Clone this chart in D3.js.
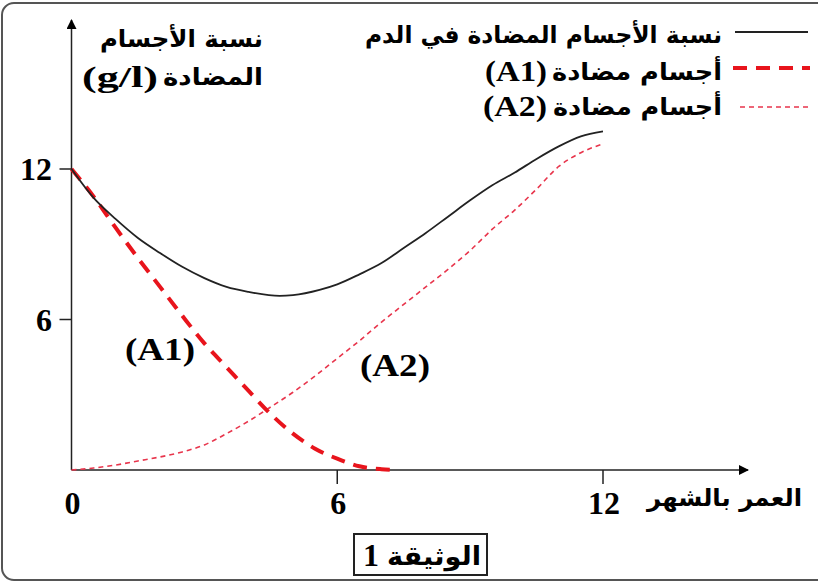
<!DOCTYPE html>
<html><head><meta charset="utf-8">
<script src="https://cdn.jsdelivr.net/npm/d3@7"></script>
<style>body{margin:0;background:#fff}svg{display:block}</style>
</head><body><svg id="c" width="818" height="582"></svg>
<script>
// Data (months, g/l)
const totalMonths = [0, 0.5, 1, 1.5, 2, 2.5, 3, 3.5, 4, 4.7, 5, 5.6, 6, 6.5, 7, 7.5, 8, 8.5, 9, 9.5, 10, 10.5, 11, 11.5, 12];
const totalValues = [12, 10.85, 10.0, 9.25, 8.65, 8.1, 7.65, 7.3, 7.1, 6.94, 6.97, 7.18, 7.4, 7.8, 8.25, 8.85, 9.45, 10.1, 10.75, 11.35, 11.85, 12.4, 12.9, 13.3, 13.5];
const a1Months = [0, 0.5, 1, 1.5, 2, 2.5, 3, 3.5, 4, 4.4, 5, 5.5, 6, 6.5, 7, 7.25];
const a1Values = [12, 10.9, 9.65, 8.45, 7.3, 6.15, 5.05, 4.1, 3.15, 2.4, 1.45, 0.85, 0.45, 0.15, 0.03, 0];
const a2Months = [0, 0.5, 1, 1.5, 2, 2.5, 3, 3.5, 4, 4.4, 5, 5.5, 6, 6.5, 7, 7.5, 8, 8.5, 9, 9.5, 10, 10.5, 11, 11.5, 12];
const a2Values = [0, 0.08, 0.2, 0.36, 0.52, 0.72, 1.0, 1.45, 1.95, 2.4, 3.1, 3.75, 4.45, 5.15, 5.9, 6.6, 7.3, 8.0, 8.75, 9.6, 10.35, 11.2, 12.1, 12.65, 13.0];
const xTicks = [0, 6, 12];
const yTicks = [6, 12];
const legendLabels = ["نسبة الأجسام المضادة في الدم", "أجسام مضادة", "أجسام مضادة"];
const legendLatin = ["", "(A1)", "(A2)"];
const yTitle1 = "نسبة الأجسام";
const yTitle2 = "المضادة";
const yUnit = "(g/l)";
const xTitle = "العمر بالشهر";
const docTitle = "الوثيقة";
const docNum = "1";

const svg = d3.select("#c");
const AR = "'DejaVu Sans', sans-serif";
const LAT = "'Liberation Serif', 'DejaVu Serif', serif";
const RED = "#e8141c", RED2 = "#e8354c";

// frame
svg.append("rect").attr("x", 2).attr("y", 3).attr("width", 840).attr("height", 577)
  .attr("rx", 12).attr("fill", "none").attr("stroke", "#555").attr("stroke-width", 2);

const x = d3.scaleLinear().domain([0, 12]).range([71.5, 603]);
const y = d3.scaleLinear().domain([0, 12]).range([470, 169]);

// axes lines with arrows
svg.append("defs").append("marker").attr("id", "arr").attr("viewBox", "0 0 10 10")
  .attr("refX", 9).attr("refY", 5).attr("markerWidth", 11).attr("markerHeight", 10)
  .attr("markerUnits", "userSpaceOnUse").attr("orient", "auto")
  .append("path").attr("d", "M0,0L10,5L0,10z").attr("fill", "#000");
svg.append("line").attr("x1", x(0)).attr("y1", y(0)).attr("x2", 748).attr("y2", y(0))
  .attr("stroke", "#222").attr("stroke-width", 1.5).attr("marker-end", "url(#arr)");
svg.append("line").attr("x1", x(0)).attr("y1", y(0)).attr("x2", x(0)).attr("y2", 20)
  .attr("stroke", "#222").attr("stroke-width", 1.5).attr("marker-end", "url(#arr)");

// ticks
svg.selectAll(".yt").data(yTicks).enter().append("line")
  .attr("x1", x(0) - 12).attr("x2", x(0)).attr("y1", d => y(d)).attr("y2", d => y(d))
  .attr("stroke", "#222").attr("stroke-width", 1.5);
svg.selectAll(".ytl").data(yTicks).enter().append("text")
  .attr("x", 52).attr("y", d => y(d) + 11).attr("text-anchor", "end")
  .attr("font-family", LAT).attr("font-weight", "bold").attr("font-size", 32).text(d => d);
svg.selectAll(".xt").data(xTicks.filter(d => d > 0)).enter().append("line")
  .attr("x1", d => x(d)).attr("x2", d => x(d)).attr("y1", y(0)).attr("y2", y(0) + 14)
  .attr("stroke", "#222").attr("stroke-width", 1.5);
svg.selectAll(".xtl").data(xTicks).enter().append("text")
  .attr("x", d => x(d) + 1).attr("y", 514).attr("text-anchor", "middle")
  .attr("font-family", LAT).attr("font-weight", "bold").attr("font-size", 32).text(d => d);

// lines
const line = d3.line().x(d => x(d[0])).y(d => y(d[1])).curve(d3.curveMonotoneX);
const z = (a, b) => a.map((m, i) => [m, b[i]]);
svg.append("path").attr("d", line(z(a2Months, a2Values))).attr("fill", "none")
  .attr("stroke", RED2).attr("stroke-width", 1.6).attr("stroke-dasharray", "5,4");
svg.append("path").attr("d", line(z(a1Months, a1Values))).attr("fill", "none")
  .attr("stroke", RED).attr("stroke-width", 4).attr("stroke-dasharray", "14,9");
svg.append("path").attr("d", line(z(totalMonths, totalValues))).attr("fill", "none")
  .attr("stroke", "#222").attr("stroke-width", 1.8);

// text helpers
function ar(xr, yb, s, size, len) {
  const t = svg.append("text").attr("x", xr - len).attr("y", yb)
    .attr("font-family", AR).attr("font-weight", "bold").attr("font-size", size)
    .attr("direction", "rtl").attr("text-anchor", "end").text(s);
  t.attr("textLength", len).attr("lengthAdjust", "spacingAndGlyphs");
  return t;
}
function lat(xl, yb, s, size, len) {
  return svg.append("text").attr("x", xl).attr("y", yb)
    .attr("font-family", LAT).attr("font-weight", "bold").attr("font-size", size)
    .attr("textLength", len).attr("lengthAdjust", "spacingAndGlyphs").text(s);
}

// legend
ar(722, 43, legendLabels[0], 24, 357);
ar(722, 80, legendLabels[1], 24, 170); lat(485, 81, legendLatin[1], 30, 62);
ar(722, 115, legendLabels[2], 24, 169); lat(483, 116, legendLatin[2], 30, 64);
svg.append("line").attr("x1", 735).attr("x2", 808).attr("y1", 32).attr("y2", 32)
  .attr("stroke", "#222").attr("stroke-width", 1.8);
svg.append("line").attr("x1", 733).attr("x2", 810).attr("y1", 68).attr("y2", 68)
  .attr("stroke", RED).attr("stroke-width", 4).attr("stroke-dasharray", "14,9");
svg.append("line").attr("x1", 740).attr("x2", 810).attr("y1", 107).attr("y2", 107)
  .attr("stroke", RED2).attr("stroke-width", 1.6).attr("stroke-dasharray", "5,4");

// y title
ar(263, 47, yTitle1, 24, 163);
ar(263, 85, yTitle2, 24, 100);
lat(82, 87, yUnit, 30, 76);

// x title
ar(802, 506, xTitle, 24, 155);

// curve labels
lat(125, 360, "(A1)", 32, 70);
lat(360, 376, "(A2)", 32, 70);

// document box
svg.append("rect").attr("x", 354).attr("y", 534).attr("width", 133).attr("height", 41)
  .attr("fill", "none").attr("stroke", "#222").attr("stroke-width", 2);
ar(481, 565, docTitle, 26, 94);
lat(363, 566, docNum, 32, 16);
</script></body></html>
